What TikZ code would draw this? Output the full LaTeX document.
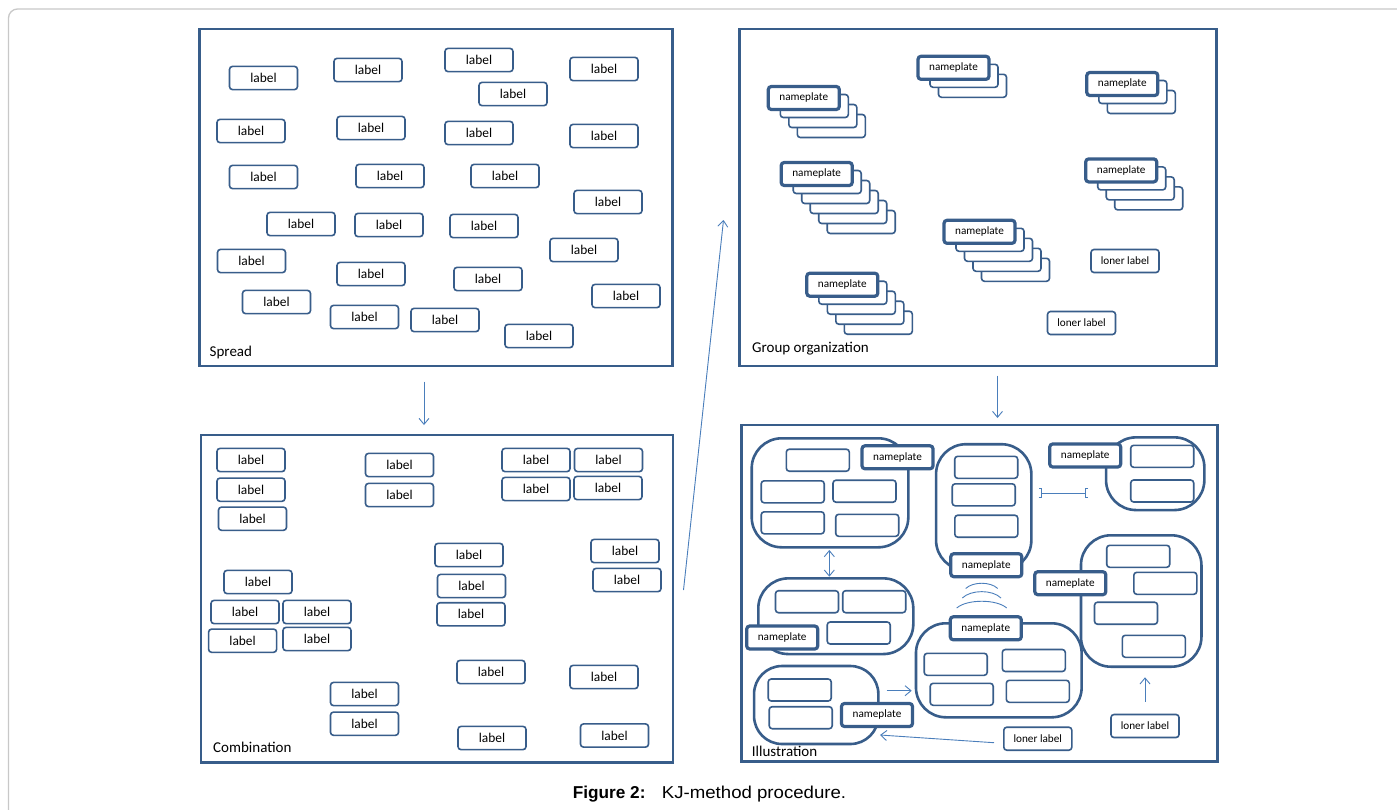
\documentclass[tikz,border=0pt]{standalone}
\usepackage{fontspec}
\setmainfont{Carlito}
\newfontfamily\capfont{Liberation Sans}
\usetikzlibrary{arrows.meta}
\definecolor{boxc}{HTML}{385D8A}
\definecolor{arrc}{HTML}{4A7EBB}
\definecolor{cardc}{HTML}{C8C8C8}
\newcommand\npstack[4]{%
  \foreach \i in {#4,...,1} {\node[card] (#1b\i) at ({#2+2+8.5*\i},{#3-2+10*\i}) {};}
  \node[nplate] (#1) at (#2,#3) {nameplate};}
\begin{document}
\begin{tikzpicture}[x=1pt,y=-1pt,
  panel/.style={draw=boxc,line width=2.8pt,inner sep=0pt},
  lbl/.style={draw=boxc,fill=white,line width=1.6pt,rounded corners=3pt,minimum width=68pt,minimum height=23.2pt,inner sep=0pt,font=\fontsize{13.4}{15}\selectfont},
  card/.style={draw=boxc,fill=white,line width=1.6pt,rounded corners=3pt,minimum width=68pt,minimum height=23pt,inner sep=0pt},
  nplate/.style={draw=boxc,fill=white,line width=3.2pt,rounded corners=3pt,minimum width=71pt,minimum height=23pt,inner sep=0pt,font=\fontsize{11.2}{13}\selectfont},
  loner/.style={draw=boxc,fill=white,line width=1.6pt,rounded corners=3pt,minimum width=68pt,minimum height=23pt,inner sep=0pt,font=\fontsize{11.2}{13}\selectfont},
  ebox/.style={draw=boxc,fill=white,line width=1.6pt,rounded corners=3pt,minimum width=63pt,minimum height=22pt,inner sep=0pt},
  blob/.style={draw=boxc,fill=white,line width=2.6pt,rounded corners=30pt,inner sep=0pt},
  ttl/.style={anchor=base west,inner sep=0pt,font=\fontsize{15}{17}\selectfont},
  arr/.style={draw=arrc,line width=0.9pt},
  tip/.style={-{Straight Barb[length=6pt,width=10pt]}}
]
\useasboundingbox (0,0) rectangle (1397,809);
\clip (0,0) rectangle (1397,809);
\fill[white] (0,0) rectangle (1397,809);
\draw[cardc,line width=1.3pt,rounded corners=9pt] (8.5,9) rectangle (1430,840);

% ---------- Panel 1: Spread
\node[panel,minimum width=473.3pt,minimum height=337pt] (p1) at (436.15,197.5) {};
\node[ttl] (t1) at (209.5,356) {Spread};
\foreach \n/\x/\y in {1/263.5/78,2/368/70,3/479/60,4/604/69,5/513/94,6/251/131,7/371/128,8/479/133,9/604/136,10/263.5/177,11/390/176,12/505/176,13/608/202,14/301/224,15/389/225,16/484/226,17/584/250,18/251.5/261,19/371/274,20/488/279,21/626/296,22/276.5/302,23/364.5/317,24/445/320,25/539/336}
  \node[lbl] (s\n) at (\x,\y) {label};

% ---------- Panel 2: Group organization
\node[panel,minimum width=476.8pt,minimum height=337pt] (p2) at (978,197.5) {};
\node[ttl] (t2) at (752,352.5) {Group organization};
\npstack{ga}{803.8}{98}{3}
\npstack{gb}{953.5}{67.8}{2}
\npstack{gc}{1122.3}{84}{2}
\npstack{gd}{816.7}{174}{5}
\npstack{ge}{1121.2}{170.4}{3}
\npstack{gf}{979.5}{231.8}{4}
\npstack{gg}{842.3}{284.7}{4}
\node[loner] (gl1) at (1125,261) {loner label};
\node[loner] (gl2) at (1081.5,323) {loner label};

% ---------- Panel 3: Combination
\node[panel,minimum width=472pt,minimum height=327.3pt] (p3) at (437,598.65) {};
\node[ttl] (t3) at (213,752.5) {Combination};
\foreach \n/\x/\y in {1/251/460,2/251/489.7,3/252.5/518.7,4/399.5/465,5/399.5/495,6/536/460,7/608.5/460,8/536/489,9/608/488,10/469/555,11/471.5/586,12/471/614.3,13/625/551,14/627/580,15/258/582,16/245/612,17/317/612,18/242.6/640.7,19/317/639,20/491/672,21/604/677,22/364.5/694,23/364.5/723.7,24/492/738,25/614.5/735.5}
  \node[lbl] (c\n) at (\x,\y) {label};

% ---------- Panel 4: Illustration
\node[panel,minimum width=476.5pt,minimum height=336.7pt] (p4) at (979.55,593.35) {};
\node[ttl] (t4) at (751.7,756.5) {Illustration};
% group blobs
\node[blob,minimum width=156.6pt,minimum height=109pt] (bA) at (830,492.8) {};
\node[blob,minimum width=95.3pt,minimum height=126pt] (bB) at (983.7,507.2) {};
\node[blob,minimum width=98.3pt,minimum height=72.7pt] (bC) at (1155.2,473.7) {};
\node[blob,minimum width=120.5pt,minimum height=131.4pt] (bD) at (1141.2,601) {};
\node[blob,minimum width=155pt,minimum height=75.7pt] (bE) at (835.8,616.2) {};
\node[blob,minimum width=165.7pt,minimum height=94pt] (bF) at (998.8,670.3) {};
\node[blob,minimum width=124.3pt,minimum height=78pt,rounded corners=28pt] (bG) at (816.2,705) {};
% inner boxes
\foreach \n/\x/\y in {A1/817.8/460.2,A2/792.7/491.8,A3/864.5/491.2,A4/792.7/522.8,A5/867.2/525.3,
  B1/986.2/467.3,B2/983.7/494.8,B3/986.3/526.2,C1/1162.2/456.3,C2/1162.2/491,
  D1/1138.2/556.3,D2/1165.3/583.3,D3/1126/613.2,D4/1153.8/646.3,
  E1/807/601.7,E2/874.2/601.7,E3/858.7/633,
  F1/955.7/664.3,F2/1033.8/660.5,F3/961.7/694.3,F4/1037.8/691.3,
  G1/799.7/690,G2/800.7/717.7}
  \node[ebox] (e\n) at (\x,\y) {};
% nameplates
\node[nplate] (nA) at (897.5,457.3) {nameplate};
\node[nplate] (nB) at (986.3,565.2) {nameplate};
\node[nplate] (nC) at (1085.2,455.5) {nameplate};
\node[nplate] (nD) at (1070.3,583.2) {nameplate};
\node[nplate] (nE) at (782.2,637.5) {nameplate};
\node[nplate] (nF) at (985.8,628.3) {nameplate};
\node[nplate] (nG) at (877,715) {nameplate};
\node[loner] (lB) at (1037.8,738.7) {loner label};
\node[loner] (lR) at (1145,726) {loner label};
% relations
\coordinate (dA) at (829.3,550);
\coordinate (dE) at (829.3,576.7);
\draw[arr,{Straight Barb[length=6pt,width=10pt]}-{Straight Barb[length=6pt,width=10pt]}] (dA) -- (dE);
\coordinate (kB) at (1038.5,493.3);
\coordinate (kC) at (1088,493.3);
\draw[arr,{Bracket[reversed,width=10pt,length=2.5pt]}-{Bracket[reversed,width=10pt,length=2.5pt]}] (kB) -- (kC);
\coordinate (gF1) at (886.7,690.7);
\coordinate (gF2) at (911.7,690.7);
\draw[arr,tip] (gF1) -- (gF2);
\coordinate (lB1) at (994,742.7);
\coordinate (lB2) at (880,735);
\draw[arr,tip] (lB1) -- (lB2);
\coordinate (lR1) at (1145,701.7);
\coordinate (lR2) at (1145,677.3);
\draw[arr,tip] (lR1) -- (lR2);
\draw[arr] (965.7,588.5) .. controls (973,581.5) and (990.5,581.5) .. (997.7,588.5);
\draw[arr] (962.3,598) .. controls (971,589.5) and (992.5,589.5) .. (1001,598);
\draw[arr] (956.7,608) .. controls (967,599) and (996.5,599) .. (1006.7,608);

% ---------- flow between panels
\coordinate (f1a) at (424,381.5);
\coordinate (f1b) at (424,425);
\draw[arr,tip] (f1a) -- (f1b);
\coordinate (f2a) at (683.5,590);
\coordinate (f2b) at (723.5,220);
\draw[arr,tip] (f2a) -- (f2b);
\coordinate (f3a) at (997.5,375.5);
\coordinate (f3b) at (997.5,418);
\draw[arr,tip] (f3a) -- (f3b);

% ---------- caption
\node[anchor=base west,inner sep=0pt,font=\capfont\fontsize{17.2}{20}\selectfont] (capA) at (572.7,798.8) {\textbf{Figure 2:}};
\node[anchor=base west,inner sep=0pt,font=\capfont\fontsize{17.2}{20}\selectfont] (capB) at (661.7,798.8) {\scalebox{1.083}[1]{KJ-method procedure.}};
\end{tikzpicture}
\end{document}
